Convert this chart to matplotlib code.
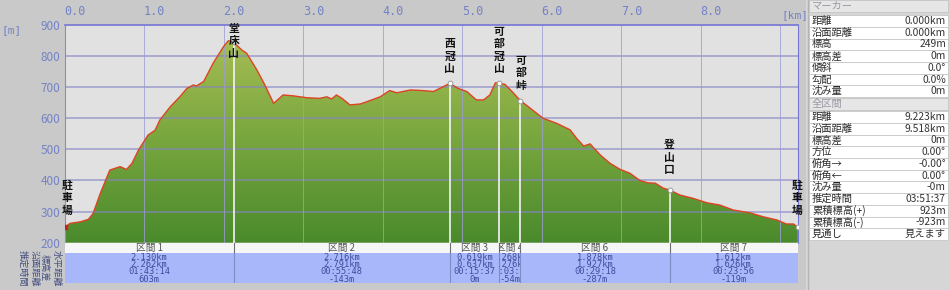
import numpy as np
import matplotlib
matplotlib.use("Agg")
import matplotlib.pyplot as plt
from matplotlib.colors import LinearSegmentedColormap
from matplotlib.patches import Polygon, Rectangle

plt.rcParams['font.family'] = ['Noto Sans CJK JP', 'DejaVu Sans']

# elevation profile: horizontal distance [km], elevation [m]
dist = [0.00, 0.07, 0.20, 0.30, 0.36, 0.45, 0.57, 0.70, 0.78, 0.85, 0.93, 1.05, 1.14, 1.20,
        1.33, 1.45, 1.54, 1.62, 1.66, 1.75, 1.87, 2.00, 2.06, 2.13, 2.23, 2.29, 2.42, 2.52,
        2.63, 2.75, 2.88, 3.05, 3.21, 3.30, 3.36, 3.42, 3.49, 3.59, 3.72, 3.80, 3.97, 4.09,
        4.18, 4.35, 4.51, 4.64, 4.76, 4.846, 4.95, 5.06, 5.18, 5.27, 5.35, 5.42, 5.465, 5.54,
        5.65, 5.733, 5.86, 6.02, 6.19, 6.36, 6.44, 6.53, 6.61, 6.74, 6.86, 6.99, 7.11, 7.24,
        7.34, 7.43, 7.53, 7.611, 7.74, 7.91, 8.08, 8.24, 8.41, 8.62, 8.79, 8.96, 9.08, 9.17,
        9.223]
elev = [249, 262, 267, 275, 294, 358, 433, 444, 435, 455, 497, 545, 561, 594,
        636, 668, 695, 706, 703, 717, 776, 829, 848, 843, 818, 808, 754, 706,
        647, 674, 671, 665, 663, 668, 661, 674, 663, 642, 645, 652, 668, 688,
        681, 690, 688, 685, 700, 711, 695, 685, 658, 658, 674, 713, 711, 708,
        679, 656, 631, 599, 583, 562, 535, 510, 517, 481, 455, 435, 423, 399,
        392, 391, 375, 369, 353, 342, 328, 321, 305, 296, 283, 273, 260, 260,
        249]

# waypoints
wp_names = ["駐車場", "堂床山", "西冠山", "可部冠山", "可部峠", "登山口", "駐車場"]
wp_dist = [0.0, 2.130, 4.846, 5.465, 5.733, 7.611, 9.223]
wp_elev = [249, 843, 711, 711, 656, 369, 249]
wp_label_x = [0.03, 2.13, 4.846, 5.465, 5.74, 7.611, 9.21]
wp_label_top = [400, 902, 854, 893, 800, 530, 400]

# sections
sec_names = ["区間 1", "区間 2", "区間 3", "区間 4", "区間 6", "区間 7"]
sec_hdist = ["2.130km", "2.716km", "0.619km", "0.268km", "1.878km", "1.612km"]
sec_sdist = ["2.262km", "2.791km", "0.637km", "0.276km", "1.927km", "1.626km"]
sec_time = ["01:43:14", "00:55:48", "00:15:37", "00:03:44", "00:29:18", "00:23:56"]
sec_dz = ["603m", "-143m", "0m", "-54m", "-287m", "-119m"]
row_names = ["推定時間", "沿面距離", "標高差", "水平距離"]

# side panel
marker_labels = ["距離", "沿面距離", "標高", "標高差", "傾斜", "勾配", "沈み量"]
marker_values = ["0.000km", "0.000km", "249m", "0m", "0.0°", "0.0%", "0m"]
total_labels = ["距離", "沿面距離", "標高差", "方位", "俯角→", "俯角←", "沈み量",
                "推定時間", "累積標高(+)", "累積標高(-)", "見通し"]
total_values = ["9.223km", "9.518km", "0m", "0.00°", "-0.00°", "0.00°", "-0m",
                "03:51:37", "923m", "-923m", "見えます"]

W, H = 950, 290
fig = plt.figure(figsize=(W / 100, H / 100), dpi=100, facecolor="#c9c9c9")

x0, x1 = 64.5, 797.8
y_top, y_bot = 24.5, 242.7
ax = fig.add_axes([x0 / W, 1 - y_bot / H, (x1 - x0) / W, (y_bot - y_top) / H])
ax.set_facecolor("#e1e1e1")
ax.set_xlim(0, dist[-1])
ax.set_ylim(200, 900)

# gradient fill under the profile
cmap = LinearSegmentedColormap.from_list("g", ["#4a8a2c", "#78a63e", "#a6bd54"])
grad = np.linspace(0, 1, 256).reshape(-1, 1)
im = ax.imshow(grad, extent=[0, dist[-1], 200, 860], origin="lower", aspect="auto",
               cmap=cmap, zorder=1)
poly = Polygon(list(zip(dist, elev)) + [(dist[-1], 200), (0, 200)], closed=True,
               facecolor="none", edgecolor="none")
ax.add_patch(poly)
im.set_clip_path(poly)

for m in range(300, 900, 100):
    ax.axhline(m, color="#8585c4", lw=1.1, alpha=0.75, zorder=2)
for k in range(1, 10):
    ax.axvline(k, color="#9c9cd6", lw=0.7, alpha=0.8, zorder=2)

ax.plot(dist, elev, color="#dc4422", lw=1.0, zorder=4)

# waypoint lines, markers and labels
for i in range(1, len(wp_dist) - 1):
    ax.plot([wp_dist[i], wp_dist[i]], [200, wp_elev[i]], color="#f4f4f4", lw=1.2, zorder=3)
ax.scatter(wp_dist[1:], wp_elev[1:], s=12, facecolor="white", edgecolor="#909090",
           lw=0.6, zorder=5)
ax.scatter(wp_dist[:1], wp_elev[:1], s=8, marker="s", color="#cc2020", zorder=5)
for name, xl, yt in zip(wp_names, wp_label_x, wp_label_top):
    ax.text(xl, yt, "\n".join(name), ha="center", va="top", fontsize=7.8,
            linespacing=1.3, color="#111111", fontweight="bold", zorder=6, clip_on=False)

ax.set_yticks(range(200, 1000, 100))
ax.set_yticklabels([str(v) for v in range(200, 1000, 100)], fontsize=8.5, color="#7482c6")
ax.xaxis.tick_top()
ax.set_xticks(range(0, 9))
ax.set_xticklabels(["%d.0" % k for k in range(0, 9)], fontsize=8.5, color="#7482c6",
                   family="DejaVu Sans Mono")
ax.tick_params(axis="y", length=0, pad=3)
ax.tick_params(axis="x", length=0, pad=5)
for lab in ax.get_xticklabels():
    lab.set_horizontalalignment("left")
ax.spines["top"].set_color("#7676d4")
ax.spines["top"].set_linewidth(1.2)
ax.spines["right"].set_color("#7676d4")
ax.spines["left"].set_color("#8c8cc0")
ax.spines["bottom"].set_visible(False)

# section band
bx = fig.add_axes([x0 / W, (H - 283) / H, (x1 - x0) / W, 40 / H])
bx.set_xlim(0, dist[-1])
bx.set_ylim(283, 243)
bx.axis("off")
bx.add_patch(Rectangle((0, 243), dist[-1], 10, facecolor="#f6f6f6", edgecolor="none"))
bx.add_patch(Rectangle((0, 253), dist[-1], 30, facecolor="#a7b7f9", edgecolor="none"))
bounds = wp_dist
for i in range(1, len(bounds) - 1):
    bx.plot([bounds[i]] * 2, [243, 253], color="#707070", lw=0.8)
    bx.plot([bounds[i]] * 2, [253, 283], color="#7c8cc4", lw=0.8)
for i in range(len(sec_names)):
    a, b = bounds[i], bounds[i + 1]
    c = (a + b) / 2
    clip = Rectangle((a, 243), b - a, 40, transform=bx.transData)
    t = bx.text(c, 248.5, sec_names[i], ha="center", va="center", fontsize=7,
                color="#555555", clip_on=True)
    t.set_clip_path(clip)
    for j, s in enumerate([sec_hdist[i], sec_sdist[i], sec_time[i], sec_dz[i]]):
        t = bx.text(c, 257.5 + 7.2 * j, s, ha="center", va="center", fontsize=6.3,
                    color="#3f4c9c", family="DejaVu Sans Mono", clip_on=True)
        t.set_clip_path(clip)

# overlay for loose labels (pixel coordinates)
ov = fig.add_axes([0, 0, 1, 1], zorder=-1)
ov.set_xlim(0, W)
ov.set_ylim(H, 0)
ov.axis("off")
ov.text(12, 30, "[m]", ha="center", va="center", fontsize=8, color="#7482c6",
        family="DejaVu Sans Mono")
ov.text(795, 15, "[km]", ha="center", va="center", fontsize=8, color="#7482c6",
        family="DejaVu Sans Mono")
for j, name in enumerate(row_names):
    ov.text(23 + 11 * j, 268, name, rotation=-90, ha="center", va="center",
            fontsize=6.6, color="#454e80")

# side panel
px = fig.add_axes([806 / W, 0, (W - 806) / W, 1])
px.set_xlim(806, W)
px.set_ylim(H, 0)
px.axis("off")
px.add_patch(Rectangle((806, 0), W - 806, H, facecolor="#d6d6d6", edgecolor="none"))
px.plot([807.5, 807.5], [0, H], color="#b4b4b4", lw=1)

def header(yc, text):
    px.add_patch(Rectangle((809, yc - 6), 139, 12, facecolor="#e6e6e6",
                           edgecolor="#c4c4c4", lw=0.6))
    px.text(812, yc, text, ha="left", va="center", fontsize=7.4, color="#9a9aa6")

def rows(y_start, labels, values):
    h = 11.7
    for i, (l, v) in enumerate(zip(labels, values)):
        yc = y_start + h * (i + 0.5)
        px.add_patch(Rectangle((809, y_start + h * i), 139, h, facecolor="white",
                               edgecolor="#c8c8c8", lw=0.6))
        px.text(812, yc, l, ha="left", va="center", fontsize=7.4, color="#2a2a2a")
        px.text(946, yc, v, ha="right", va="center", fontsize=7.4, color="#333333")

header(6, "マーカー")
rows(15.2, marker_labels, marker_values)
header(104, "全区間")
rows(111.2, total_labels, total_values)

fig.savefig("out.png", dpi=100, facecolor=fig.get_facecolor())
